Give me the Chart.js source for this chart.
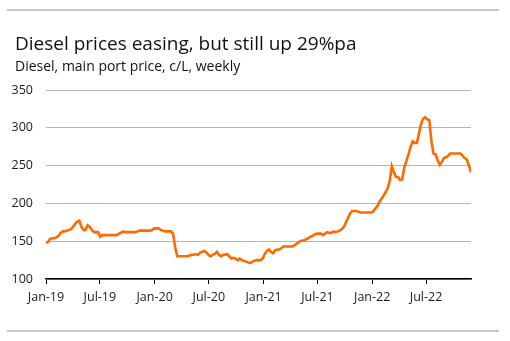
<!DOCTYPE html>
<html>
<head>
<meta charset="utf-8">
<script src="https://cdn.jsdelivr.net/npm/chart.js@4.4.1/dist/chart.umd.min.js"></script>
<style>
  html, body { margin: 0; padding: 0; background: #fff; }
  #wrap { width: 510px; height: 341px; position: relative; }
</style>
</head>
<body>
<div id="wrap"><canvas id="c" width="510" height="341"></canvas></div>
<script>
// Diesel main port price, c/L, weekly from the first week of 2019
const seriesStart = '2019-01-01';
const dieselPrice = [
  148, 149, 153, 154, 154, 155, 157, 161, 163, 163,
  164, 165, 166, 169, 173, 176, 177, 169, 165, 165,
  171, 169, 165, 162, 162, 162, 156, 158, 158, 158,
  158, 158, 158, 158, 158, 160, 161, 163, 162, 162,
  162, 162, 162, 162, 163, 164, 164, 164, 164, 164,
  164, 165, 167, 167, 167, 165, 164, 163, 163, 163,
  163, 160, 142, 130, 130, 130, 130, 130, 130, 131,
  132, 132, 133, 132, 135, 136, 137, 135, 132, 130,
  132, 133, 136, 132, 130, 132, 132, 133, 130, 127,
  128, 127, 125, 127, 125, 124, 123, 122, 121, 123,
  124, 125, 125, 125, 127, 133, 137, 139, 136, 134,
  138, 139, 139, 141, 143, 143, 143, 143, 143, 144,
  146, 148, 150, 151, 151, 153, 154, 156, 157, 159,
  160, 160, 160, 158, 160, 162, 161, 161, 163, 162,
  163, 164, 166, 169, 175, 181, 187, 190, 190, 190,
  189, 188, 188, 188, 188, 188, 188, 189, 193, 196,
  202, 206, 210, 215, 220, 230, 249, 241, 235, 235,
  231, 232, 248, 256, 265, 275, 282, 280, 280, 292,
  305, 312, 314, 311, 310, 282, 266, 265, 257, 251,
  255, 260, 261, 263, 266, 266, 266, 266, 266, 266,
  263, 260, 258, 250, 241
];
// Half-yearly axis labels and the dates they sit on
const tickLabels = ['Jan-19', 'Jul-19', 'Jan-20', 'Jul-20', 'Jan-21', 'Jul-21', 'Jan-22', 'Jul-22'];
const tickDates = ['2019-01-01', '2019-07-01', '2020-01-01', '2020-07-01', '2021-01-01', '2021-07-01', '2022-01-01', '2022-07-01'];
const yTicks = [100, 150, 200, 250, 300, 350];

const titleText = 'Diesel prices easing, but still up 29%pa';
const subtitleText = 'Diesel, main port price, c/L, weekly';

const DAY = 86400000;
const t0 = Date.parse(seriesStart);
const dayOf = s => Math.round((Date.parse(s) - t0) / DAY);
const points = dieselPrice.map((v, i) => ({ x: i * 7, y: v }));
const tickDays = tickDates.map(dayOf);
const lastDay = (dieselPrice.length - 1) * 7;

const FONT = '"Open Sans", "Noto Sans", sans-serif';

// Header text and the two grey rules framing the panel
const framePlugin = {
  id: 'frame',
  beforeDraw(chart) {
    const ctx = chart.ctx;
    ctx.save();
    ctx.fillStyle = '#ffffff';
    ctx.fillRect(0, 0, chart.width, chart.height);
    ctx.fillStyle = '#c8c8c8';
    ctx.fillRect(7, 9, 492, 2);
    ctx.fillRect(7, 330, 492, 2);
    ctx.fillStyle = '#111111';
    ctx.textBaseline = 'alphabetic';
    ctx.textAlign = 'left';
    ctx.font = '19px ' + FONT;
    ctx.fillText(titleText, 15, 50);
    ctx.font = '14px ' + FONT;
    ctx.fillText(subtitleText, 15, 71);
    ctx.restore();
  }
};

new Chart(document.getElementById('c'), {
  type: 'line',
  data: {
    datasets: [{
      data: points,
      borderColor: '#ff6a00',
      borderWidth: 2.6,
      pointRadius: 0,
      tension: 0,
      fill: false
    }]
  },
  options: {
    responsive: false,
    animation: false,
    layout: { padding: { left: 0, right: 39, top: 90, bottom: 0 } },
    plugins: { legend: { display: false }, tooltip: { enabled: false } },
    scales: {
      x: {
        type: 'linear',
        min: 0,
        max: lastDay,
        afterFit(scale) { scale.height = 62; },
        afterBuildTicks(scale) { scale.ticks = tickDays.map(v => ({ value: v })); },
        ticks: {
          autoSkip: false,
          maxRotation: 0,
          padding: 6,
          color: '#1a1a1a',
          font: { family: FONT, size: 12.5 },
          callback(value) {
            const k = tickDays.indexOf(value);
            return k >= 0 ? tickLabels[k] : '';
          }
        },
        grid: { drawOnChartArea: false, drawTicks: true, tickLength: 5, color: '#000', lineWidth: 1 },
        border: { display: true, color: '#000', width: 1.5 }
      },
      y: {
        min: 100,
        max: 350,
        afterFit(scale) { scale.width = 46; },
        afterBuildTicks(scale) { scale.ticks = yTicks.map(v => ({ value: v })); },
        ticks: {
          padding: 13,
          color: '#1a1a1a',
          font: { family: FONT, size: 12.5 }
        },
        grid: { color: '#b4b4b4', lineWidth: 1, drawTicks: false },
        border: { display: false }
      }
    }
  },
  plugins: [framePlugin]
});
</script>
</body>
</html>
